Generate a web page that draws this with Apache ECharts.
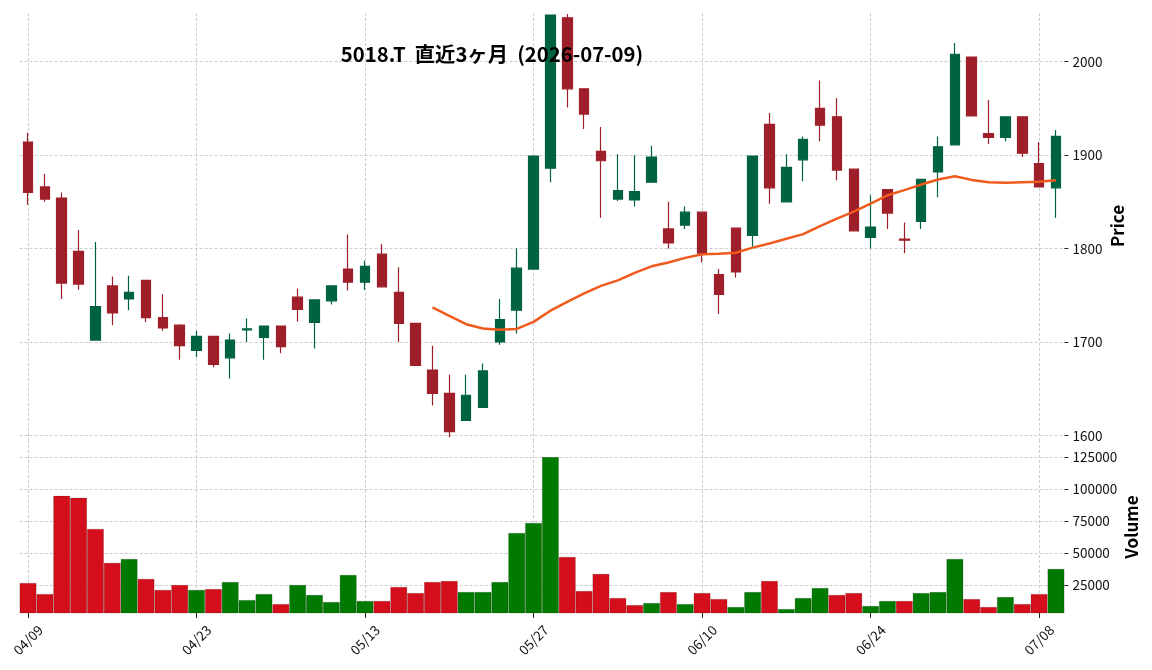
<!DOCTYPE html>
<html>
<head>
<meta charset="utf-8">
<title>5018.T</title>
<script src="https://cdn.jsdelivr.net/npm/echarts/dist/echarts.min.js"></script>
<style>
  html, body { margin: 0; padding: 0; background: #fff; }
  #chart { width: 1152px; height: 670px; }
</style>
</head>
<body>
<div id="chart"></div>
<script>
// 日付 (営業日)
const dates = [
  "04/09", "04/10", "04/13", "04/14", "04/15", "04/16", "04/17", "04/20", "04/21", "04/22",
  "04/23", "04/24", "04/27", "04/28", "04/30", "05/01", "05/07", "05/08", "05/11", "05/12",
  "05/13", "05/14", "05/15", "05/18", "05/19", "05/20", "05/21", "05/22", "05/25", "05/26",
  "05/27", "05/28", "05/29", "06/01", "06/02", "06/03", "06/04", "06/05", "06/08", "06/09",
  "06/10", "06/11", "06/12", "06/15", "06/16", "06/17", "06/18", "06/19", "06/22", "06/23",
  "06/24", "06/25", "06/26", "06/29", "06/30", "07/01", "07/02", "07/03", "07/06", "07/07",
  "07/08", "07/09"
];

const openPrices = [
  1914, 1866, 1854, 1797, 1702, 1760, 1746, 1766, 1726, 1718,
  1691, 1706, 1683, 1713, 1705, 1717, 1748, 1721, 1744, 1778,
  1764, 1794, 1753, 1720, 1670, 1645, 1616, 1630, 1700, 1734,
  1778, 1886, 2047, 1971, 1904, 1853, 1852, 1871, 1821, 1825,
  1839, 1772, 1822, 1814, 1933, 1850, 1895, 1950, 1941, 1885,
  1812, 1863, 1810, 1829, 1882, 1911, 2005, 1923, 1919, 1941,
  1891, 1865
];
const closePrices = [
  1860, 1853, 1763, 1762, 1738, 1731, 1753, 1726, 1715, 1696,
  1706, 1676, 1702, 1714, 1717, 1695, 1735, 1745, 1760, 1764,
  1781, 1759, 1720, 1675, 1645, 1604, 1643, 1669, 1724, 1779,
  1899, 2050, 1971, 1944, 1894, 1862, 1861, 1898, 1806, 1839,
  1795, 1751, 1775, 1899, 1865, 1887, 1917, 1932, 1884, 1819,
  1823, 1838, 1809, 1874, 1909, 2008, 1942, 1919, 1941, 1902,
  1866, 1920
];
const lowPrices = [
  1847, 1850, 1746, 1756, 1702, 1718, 1734, 1721, 1712, 1681,
  1684, 1673, 1661, 1700, 1681, 1688, 1722, 1693, 1740, 1755,
  1756, 1759, 1700, 1675, 1632, 1598, 1616, 1630, 1697, 1709,
  1778, 1871, 1951, 1928, 1833, 1851, 1845, 1871, 1800, 1821,
  1785, 1730, 1769, 1802, 1848, 1850, 1872, 1915, 1873, 1819,
  1800, 1821, 1795, 1821, 1855, 1911, 1942, 1912, 1915, 1898,
  1866, 1833
];
const highPrices = [
  1924, 1880, 1860, 1820, 1807, 1770, 1771, 1766, 1751, 1719,
  1712, 1706, 1709, 1725, 1717, 1717, 1757, 1745, 1760, 1815,
  1787, 1805, 1780, 1720, 1696, 1665, 1665, 1677, 1746, 1800,
  1899, 2050, 2051, 1971, 1930, 1901, 1900, 1910, 1850, 1845,
  1839, 1778, 1822, 1899, 1945, 1901, 1920, 1980, 1961, 1885,
  1857, 1863, 1828, 1874, 1920, 2020, 2005, 1959, 1941, 1941,
  1914, 1927
];

// 25日移動平均 (チャートから読み取り)
const ma25 = [
  null, null, null, null, null, null, null, null, null, null,
  null, null, null, null, null, null, null, null, null, null,
  null, null, null, null, 1737, 1728, 1719, 1714.5, 1713, 1714,
  1721.5, 1733.5, 1743, 1752, 1760, 1766, 1774, 1781, 1785, 1790,
  1794, 1794.5, 1795.5, 1801, 1805.5, 1810.5, 1815.5, 1824, 1832, 1839.5,
  1848, 1857, 1862.5, 1868.5, 1874, 1877.5, 1873.5, 1871, 1870.5, 1871,
  1871.5, 1873
];

const volumes = [
  26800, 18200, 94800, 93200, 69000, 42500, 45600, 30000, 21400, 25300,
  21400, 22100, 27600, 13500, 18200, 10400, 25300, 17500, 12000, 33100,
  12800, 12800, 23700, 19000, 27600, 28400, 19800, 19800, 27600, 65900,
  73700, 125000, 47100, 20600, 33900, 15100, 9600, 11200, 19800, 10400,
  19000, 14300, 8100, 19800, 28400, 6500, 15100, 22900, 17500, 19000,
  8900, 12800, 12800, 19000, 19800, 45600, 14300, 8100, 15900, 10400,
  18200, 37800
];

const priceTicks = [1600, 1700, 1800, 1900, 2000];
const volumeTicks = [25000, 50000, 75000, 100000, 125000];
const dateTickIndex = [0, 10, 20, 30, 40, 50, 60];

const upColor = "#006340";
const downColor = "#9e1f2a";
const volUpColor = "#007a00";
const volDownColor = "#d40f1b";
const gridLineStyle = { color: "#c0c0c0", type: [3, 2], width: 0.8 };
const fontName = "'Noto Sans CJK JP', 'Noto Sans', sans-serif";

var chartDom = document.getElementById("chart");
var myChart = echarts.init(chartDom, null, { renderer: "canvas" });
var option;

const candleData = dates.map((d, i) => [openPrices[i], closePrices[i], lowPrices[i], highPrices[i]]);

// 出来高の色は前日終値との比較
const volumeData = volumes.map((v, i) => {
  let up;
  if (i === 0) {
    up = closePrices[i] >= openPrices[i];
  } else {
    up = closePrices[i] >= closePrices[i - 1];
  }
  return {
    value: v,
    itemStyle: { color: up ? volUpColor : volDownColor }
  };
});

const dateLines = dateTickIndex.map(i => ({ xAxis: dates[i] }));
const showDateLabel = (idx) => idx % 10 === 0;

const gridLeft = 19.6;
const gridRight = 87.6;

option = {
  backgroundColor: "#ffffff",
  animation: false,
  title: {
    text: "5018.T  直近3ヶ月  (2026-07-09)",
    left: 487,
    top: 39,
    textAlign: "center",
    textStyle: {
      fontFamily: fontName,
      fontSize: 20.3,
      fontWeight: "bold",
      color: "#000"
    }
  },
  grid: [
    { left: gridLeft, right: gridRight, top: 11, height: 430 },
    { left: gridLeft, right: gridRight, top: 441, height: 172 }
  ],
  xAxis: [
    {
      type: "category",
      gridIndex: 0,
      data: dates,
      boundaryGap: true,
      axisLine: { show: false },
      axisTick: { show: false },
      axisLabel: { show: false },
      splitLine: { show: false }
    },
    {
      type: "category",
      gridIndex: 1,
      data: dates,
      boundaryGap: true,
      axisLine: { show: false },
      axisTick: {
        show: true,
        alignWithLabel: true,
        interval: showDateLabel,
        length: 5,
        lineStyle: { color: "#222", width: 1 }
      },
      axisLabel: {
        interval: showDateLabel,
        rotate: 45,
        align: "center",
        verticalAlign: "middle",
        margin: 27,
        fontFamily: fontName,
        fontSize: 13.5,
        color: "#111"
      },
      splitLine: { show: false }
    }
  ],
  yAxis: [
    {
      type: "value",
      gridIndex: 0,
      position: "right",
      min: 1594,
      max: 2054.3,
      name: "Price",
      nameLocation: "middle",
      nameRotate: 90,
      nameGap: 45,
      nameMoveOverlap: false,
      nameTextStyle: { fontFamily: fontName, fontSize: 17, fontWeight: "bold", color: "#000" },
      axisLine: { show: false },
      axisTick: {
        show: true,
        customValues: priceTicks,
        length: 4,
        lineStyle: { color: "#222" }
      },
      axisLabel: {
        customValues: priceTicks,
        margin: 8,
        fontFamily: fontName,
        fontSize: 13.5,
        color: "#111",
        formatter: v => String(v)
      },
      splitLine: { show: true, lineStyle: gridLineStyle }
    },
    {
      type: "value",
      gridIndex: 1,
      position: "right",
      min: 3400,
      max: 137500,
      name: "Volume",
      nameLocation: "middle",
      nameRotate: 90,
      nameGap: 59,
      nameMoveOverlap: false,
      nameTextStyle: { fontFamily: fontName, fontSize: 17, fontWeight: "bold", color: "#000" },
      axisLine: { show: false },
      axisTick: {
        show: true,
        customValues: volumeTicks,
        length: 4,
        lineStyle: { color: "#222" }
      },
      axisLabel: {
        customValues: volumeTicks,
        margin: 8,
        fontFamily: fontName,
        fontSize: 13.5,
        color: "#111",
        formatter: v => String(v)
      },
      splitLine: { show: true, lineStyle: gridLineStyle }
    }
  ],
  series: [
    {
      name: "Price",
      type: "candlestick",
      xAxisIndex: 0,
      yAxisIndex: 0,
      data: candleData,
      barWidth: 10,
      itemStyle: {
        color: upColor,
        color0: downColor,
        borderColor: upColor,
        borderColor0: downColor,
        borderWidth: 1.2
      },
      markLine: {
        silent: true,
        z: 1,
        symbol: ["none", "none"],
        label: { show: false },
        lineStyle: gridLineStyle,
        data: dateLines
      }
    },
    {
      name: "MA25",
      type: "line",
      xAxisIndex: 0,
      yAxisIndex: 0,
      data: ma25,
      showSymbol: false,
      lineStyle: { color: "#f05a1c", width: 2.5 },
      z: 3
    },
    {
      name: "Volume",
      type: "bar",
      xAxisIndex: 1,
      yAxisIndex: 1,
      data: volumeData,
      barCategoryGap: "0%",
      itemStyle: { borderColor: "rgba(0,0,0,0.25)", borderWidth: 0.6 },
      markLine: {
        silent: true,
        z: 1,
        symbol: ["none", "none"],
        label: { show: false },
        lineStyle: gridLineStyle,
        data: dateLines
      }
    }
  ]
};

option && myChart.setOption(option);
</script>
</body>
</html>
